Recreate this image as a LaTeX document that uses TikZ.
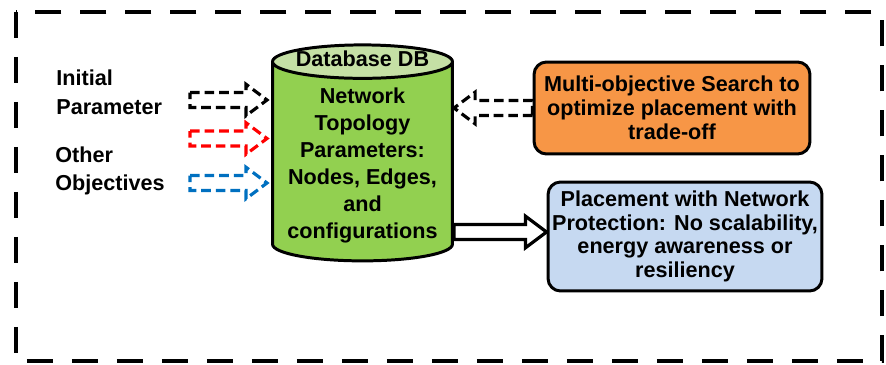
\documentclass[tikz,border=0pt]{standalone}
\usepackage{fontspec}
\setmainfont{Liberation Sans}
\usepackage{xcolor}
\usetikzlibrary{shapes.geometric, calc, positioning}
\definecolor{dbbody}{HTML}{92D050}
\definecolor{dbend}{HTML}{C5E0A5}
\definecolor{optfill}{HTML}{F79646}
\definecolor{resfill}{HTML}{C6D9F1}
\definecolor{redarr}{HTML}{FF0000}
\definecolor{bluearr}{HTML}{0070C0}
\tikzset{
  dbcyl/.style  ={cylinder, shape border rotate=90, aspect=0.22,
                  draw=black, line width=1.7pt, cylinder uses custom fill,
                  cylinder body fill=dbbody, cylinder end fill=dbend,
                  text width=3.04cm, minimum width=3.6cm, minimum height=4.32cm, inner sep=0pt},
  dbtxt/.style  ={inner sep=0pt, align=center,
                  font=\fontsize{12.3}{15.3}\selectfont\bfseries},
  optbox/.style ={rectangle, rounded corners=0.25cm, draw=black, line width=1.7pt,
                  fill=optfill, minimum width=5.52cm, minimum height=1.84cm, inner sep=0pt,
                  align=center, font=\fontsize{12.3}{13.6}\selectfont\bfseries},
  resbox/.style ={rectangle, rounded corners=0.25cm, draw=black, line width=1.7pt,
                  fill=resfill, minimum width=5.48cm, minimum height=2.18cm, inner sep=0pt,
                  align=center, font=\fontsize{12.3}{13.4}\selectfont\bfseries},
  lbl/.style    ={anchor=west, inner sep=0pt, align=left,
                  font=\fontsize{12.3}{16.4}\selectfont\bfseries},
  frame/.style  ={line width=0.08cm, dash pattern=on 0.52cm off 0.38cm},
  dflow/.style  ={line width=1.8pt, dash pattern=on 5.5pt off 2.8pt, line join=miter},
  sflow/.style  ={line width=1.8pt, line join=miter, fill=white},
}
% hollow block arrow from #2 to #3
\newcommand{\hollowarrow}[3][]{%
  \coordinate (hb) at ($(#3)!12pt!(#2)$);
  \draw[#1] ($(#2)!4.25pt!90:(#3)$) -- ($(hb)!4.25pt!-90:(#2)$)
    -- ($(hb)!9pt!-90:(#2)$) -- (#3) -- ($(hb)!9pt!90:(#2)$)
    -- ($(hb)!4.25pt!90:(#2)$) -- ($(#2)!4.25pt!-90:(#3)$) -- cycle;
}

\begin{document}
\begin{tikzpicture}[x=0.02cm, y=-0.02cm]
    \useasboundingbox (0,0) rectangle (886,365);
    \draw[frame] (16,12) rectangle (882,361);

    \node[dbcyl] (db) at (362.5,162) {};
    \node[dbtxt] (dbname) at (362.5,59) {Database DB};
    \node[dbtxt] (dbtext) at (362.5,165.5) {Network\\Topology\\Parameters:\\Nodes, Edges,\\and\\configurations};
    \node[optbox] (search) at (672,108) {Multi-objective Search to\\optimize placement with\\trade-off};
    \node[resbox] (place) at (685,236.5) {Placement with Network\\Protection: No scalability,\\energy awareness or\\resiliency};
    \node[lbl] (init) at (56,92.5) {Initial\\Parameter};
    \node[lbl] (other) at (55,171) {Other\\Objectives};

    \coordinate (in1) at (190,100);
    \coordinate (in2) at (190,138.5);
    \coordinate (in3) at (190,183);
    \coordinate (tip1) at ($(db.west |- in1)+(-4,0)$);
    \coordinate (tip2) at ($(db.west |- in2)+(-4,0)$);
    \coordinate (tip3) at ($(db.west |- in3)+(-4,0)$);
    \coordinate (back) at (db.east |- search.west);
    \coordinate (res) at ($(place.west)+(0,-4.5)$);
    \coordinate (out) at (db.east |- res);

    \hollowarrow[dflow]{in1}{tip1}
    \hollowarrow[dflow, draw=redarr]{in2}{tip2}
    \hollowarrow[dflow, draw=bluearr]{in3}{tip3}
    \hollowarrow[dflow]{search.west}{back}
    \hollowarrow[sflow]{out}{res}
  \end{tikzpicture}
\end{document}
